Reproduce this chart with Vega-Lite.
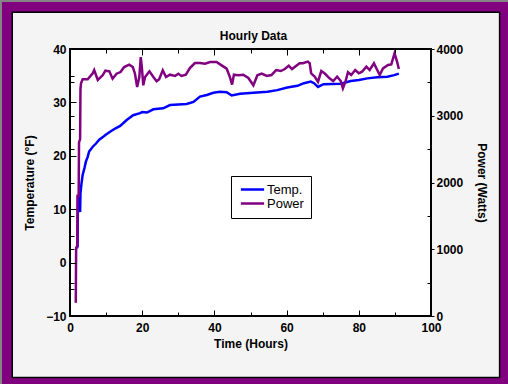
{
  "$schema": "https://vega.github.io/schema/vega-lite/v6.json",
  "width": 361,
  "height": 267,
  "autosize": {"type": "none"},
  "padding": {"left": 70, "top": 49, "right": 77, "bottom": 68},
  "background": "#858585",
  "config": {
    "view": {"stroke": null},
    "font": "Liberation Sans",
    "axis": {
      "labelFont": "Liberation Sans",
      "labelFontSize": 12,
      "labelFontWeight": "bold",
      "labelColor": "black",
      "titleFont": "Liberation Sans",
      "titleFontSize": 12,
      "titleFontWeight": "bold",
      "titleColor": "black",
      "tickColor": "black",
      "tickWidth": 1,
      "domain": false,
      "grid": false,
      "labelFlush": false,
      "labelOverlap": false,
      "labelBound": false
    }
  },
  "title": {
    "text": "Hourly Data",
    "font": "Liberation Sans",
    "fontSize": 12,
    "fontWeight": "bold",
    "color": "black",
    "offset": -41,
    "dx": 3,
    "zindex": 2
  },
  "datasets": {
    "temp": [
      {"t": 1.9, "temp": 2.7}, {"t": 2.1, "temp": 3.0}, {"t": 2.2, "temp": 12.5}, {"t": 2.5, "temp": 10.0},
      {"t": 2.8, "temp": 9.5}, {"t": 2.9, "temp": 13.0}, {"t": 3.2, "temp": 14.9}, {"t": 3.5, "temp": 16.4},
      {"t": 4.0, "temp": 17.7}, {"t": 4.4, "temp": 18.9}, {"t": 4.9, "temp": 19.8}, {"t": 5.3, "temp": 20.8},
      {"t": 6.3, "temp": 21.7}, {"t": 7.2, "temp": 22.3}, {"t": 8.1, "temp": 23.0}, {"t": 9.1, "temp": 23.5},
      {"t": 9.8, "temp": 23.9}, {"t": 11.1, "temp": 24.5}, {"t": 12.5, "temp": 25.1}, {"t": 13.9, "temp": 25.6},
      {"t": 15.7, "temp": 26.7}, {"t": 17.5, "temp": 27.6}, {"t": 19.4, "temp": 28.0}, {"t": 20.0, "temp": 28.2},
      {"t": 21.3, "temp": 28.1}, {"t": 23.1, "temp": 28.7}, {"t": 25.8, "temp": 28.9}, {"t": 27.7, "temp": 29.5},
      {"t": 30.0, "temp": 29.6}, {"t": 32.3, "temp": 29.7}, {"t": 34.2, "temp": 30.1}, {"t": 36.0, "temp": 31.1},
      {"t": 37.9, "temp": 31.4}, {"t": 39.7, "temp": 31.8}, {"t": 41.5, "temp": 32.0}, {"t": 43.4, "temp": 31.9},
      {"t": 44.8, "temp": 31.3}, {"t": 47.1, "temp": 31.6}, {"t": 50.8, "temp": 31.8}, {"t": 54.7, "temp": 32.0},
      {"t": 57.4, "temp": 32.3}, {"t": 60.2, "temp": 32.8}, {"t": 63.0, "temp": 33.1}, {"t": 64.8, "temp": 33.6},
      {"t": 66.7, "temp": 33.9}, {"t": 67.6, "temp": 33.6}, {"t": 68.7, "temp": 32.9}, {"t": 70.2, "temp": 33.4},
      {"t": 75.0, "temp": 33.5}, {"t": 77.8, "temp": 34.0}, {"t": 80.0, "temp": 34.2}, {"t": 82.4, "temp": 34.5},
      {"t": 85.1, "temp": 34.7}, {"t": 87.9, "temp": 34.8}, {"t": 89.8, "temp": 35.1}, {"t": 91.1, "temp": 35.4}
    ],
    "power": [
      {"t": 1.6, "power": 200}, {"t": 1.7, "power": 1020}, {"t": 2.0, "power": 1050}, {"t": 2.1, "power": 1800},
      {"t": 2.4, "power": 1800}, {"t": 2.5, "power": 2600}, {"t": 2.8, "power": 2650}, {"t": 2.9, "power": 3400},
      {"t": 3.05, "power": 3486}, {"t": 3.5, "power": 3546}, {"t": 4.9, "power": 3546}, {"t": 6.3, "power": 3636},
      {"t": 6.7, "power": 3685}, {"t": 7.7, "power": 3536}, {"t": 8.3, "power": 3566}, {"t": 9.1, "power": 3610},
      {"t": 9.8, "power": 3675}, {"t": 10.9, "power": 3666}, {"t": 11.8, "power": 3555}, {"t": 12.9, "power": 3630},
      {"t": 14.0, "power": 3655}, {"t": 15.0, "power": 3730}, {"t": 16.4, "power": 3765}, {"t": 17.4, "power": 3730},
      {"t": 18.0, "power": 3630}, {"t": 18.6, "power": 3431}, {"t": 19.2, "power": 3580}, {"t": 19.6, "power": 3880},
      {"t": 19.9, "power": 3730}, {"t": 20.3, "power": 3456}, {"t": 20.8, "power": 3580}, {"t": 22.0, "power": 3666},
      {"t": 23.1, "power": 3580}, {"t": 24.0, "power": 3516}, {"t": 24.7, "power": 3546}, {"t": 25.7, "power": 3681},
      {"t": 26.6, "power": 3580}, {"t": 27.7, "power": 3615}, {"t": 29.1, "power": 3596}, {"t": 30.0, "power": 3630},
      {"t": 30.9, "power": 3596}, {"t": 32.1, "power": 3615}, {"t": 33.2, "power": 3715}, {"t": 34.6, "power": 3790},
      {"t": 36.0, "power": 3790}, {"t": 37.4, "power": 3780}, {"t": 38.8, "power": 3805}, {"t": 40.6, "power": 3805},
      {"t": 42.0, "power": 3755}, {"t": 43.4, "power": 3705}, {"t": 44.3, "power": 3580}, {"t": 44.9, "power": 3466},
      {"t": 45.4, "power": 3615}, {"t": 46.6, "power": 3606}, {"t": 48.0, "power": 3615}, {"t": 49.4, "power": 3566},
      {"t": 50.8, "power": 3456}, {"t": 51.9, "power": 3606}, {"t": 53.1, "power": 3630}, {"t": 54.5, "power": 3596},
      {"t": 55.8, "power": 3610}, {"t": 57.1, "power": 3685}, {"t": 58.4, "power": 3670}, {"t": 59.5, "power": 3700},
      {"t": 60.6, "power": 3750}, {"t": 61.5, "power": 3700}, {"t": 62.7, "power": 3750}, {"t": 63.6, "power": 3786},
      {"t": 64.5, "power": 3786}, {"t": 65.9, "power": 3810}, {"t": 66.4, "power": 3786}, {"t": 66.8, "power": 3636},
      {"t": 67.8, "power": 3585}, {"t": 68.7, "power": 3510}, {"t": 69.6, "power": 3670}, {"t": 70.5, "power": 3636},
      {"t": 71.9, "power": 3561}, {"t": 72.9, "power": 3520}, {"t": 74.0, "power": 3585}, {"t": 75.0, "power": 3520},
      {"t": 75.6, "power": 3411}, {"t": 76.3, "power": 3510}, {"t": 77.0, "power": 3651}, {"t": 77.9, "power": 3610},
      {"t": 79.0, "power": 3685}, {"t": 80.0, "power": 3636}, {"t": 80.9, "power": 3660}, {"t": 82.1, "power": 3735},
      {"t": 83.0, "power": 3685}, {"t": 84.2, "power": 3786}, {"t": 85.1, "power": 3685}, {"t": 85.8, "power": 3610},
      {"t": 86.7, "power": 3710}, {"t": 88.1, "power": 3760}, {"t": 89.0, "power": 3770}, {"t": 89.9, "power": 3935},
      {"t": 90.6, "power": 3810}, {"t": 91.1, "power": 3700}
    ]
  },
  "layer": [
    {
      "data": {"values": [{}]},
      "mark": {"type": "rect", "fill": "#800080", "strokeWidth": 0},
      "encoding": {
        "x": {"datum": -18.84, "type": "quantitative", "scale": {"domain": [0, 100], "nice": false, "zero": false}, "axis": null},
        "x2": {"datum": 130},
        "y": {"datum": 48.8, "type": "quantitative", "scale": {"domain": [-10, 40], "nice": false, "zero": false}, "axis": null},
        "y2": {"datum": -30}
      }
    },
    {
      "data": {"values": [{}]},
      "mark": {"type": "rect", "fill": "#f4f4f4", "stroke": "black", "strokeWidth": 1.5},
      "encoding": {
        "x": {"datum": -16.0, "type": "quantitative", "axis": null},
        "x2": {"datum": 119.0},
        "y": {"datum": 46.9, "type": "quantitative", "scale": {"domain": [-10, 40], "nice": false, "zero": false}, "axis": null},
        "y2": {"datum": -21.5}
      }
    },
    {
      "data": {"values": [{}]},
      "mark": {"type": "rect", "fill": "white", "stroke": "black", "strokeWidth": 2},
      "encoding": {
        "x": {
          "datum": 0, "type": "quantitative",
          "axis": {
            "orient": "top", "labels": false, "title": null, "zindex": 2,
            "values": [0, 10, 20, 30, 40, 50, 60, 70, 80, 90, 100],
            "tickSize": {"condition": {"test": "datum.value % 20 === 0", "value": -6}, "value": -4}
          }
        },
        "x2": {"datum": 100},
        "y": {"datum": -10, "type": "quantitative", "scale": {"domain": [-10, 40], "nice": false, "zero": false}, "axis": null},
        "y2": {"datum": 40}
      }
    },
    {
      "data": {"name": "temp"},
      "mark": {"type": "line", "strokeWidth": 2.5},
      "encoding": {
        "x": {
          "field": "t", "type": "quantitative",
          "axis": {
            "orient": "bottom", "title": "Time (Hours)", "zindex": 2,
            "values": [0, 10, 20, 30, 40, 50, 60, 70, 80, 90, 100],
            "labelExpr": "datum.value % 20 === 0 ? datum.label : ''",
            "tickSize": {"condition": {"test": "datum.value % 20 === 0", "value": -6}, "value": -4},
            "labelPadding": 12,
            "titlePadding": 3
          }
        },
        "y": {
          "field": "temp", "type": "quantitative",
          "scale": {"domain": [-10, 40], "nice": false, "zero": false},
          "axis": {
            "orient": "left", "title": "Temperature (°F)", "zindex": 2,
            "values": [-10, -5, -3.75, 0, 2.5, 5, 8.75, 10, 15, 20, 21.25, 25, 27.5, 30, 33.75, 35, 40],
            "labelExpr": "datum.value % 10 === 0 ? datum.label : ''",
            "tickSize": {"condition": {"test": "datum.value % 10 === 0", "value": -6}, "value": -4},
            "labelPadding": 10,
            "titlePadding": 9
          }
        },
        "color": {
          "datum": "Temp.", "type": "nominal",
          "scale": {"domain": ["Temp.", "Power"], "range": ["#0000ff", "#800080"]},
          "legend": {
            "orient": "none", "legendX": 161, "legendY": 127,
            "title": null,
            "symbolType": "M-3,0H3",
            "symbolSize": 60,
            "symbolStrokeWidth": 2.5,
            "strokeColor": "black",
            "fillColor": "white",
            "padding": 7,
            "rowPadding": 0,
            "symbolOffset": 8,
            "labelOffset": 8,
            "labelFont": "Liberation Sans",
            "labelFontSize": 13,
            "labelColor": "black",
            "zindex": 2
          }
        }
      }
    },
    {
      "data": {"name": "power"},
      "mark": {"type": "line", "strokeWidth": 2.5},
      "encoding": {
        "x": {"field": "t", "type": "quantitative", "axis": null},
        "y": {
          "field": "power", "type": "quantitative",
          "scale": {"domain": [0, 4000], "nice": false, "zero": false},
          "axis": {
            "orient": "right", "title": "Power (Watts)", "zindex": 2,
            "values": [0, 500, 1000, 1500, 2000, 2500, 3000, 3500, 4000],
            "labelExpr": "datum.value % 1000 === 0 ? datum.label : ''",
            "format": "d",
            "tickSize": {"condition": {"test": "datum.value % 1000 === 0", "value": 3}, "value": -4},
            "labelPadding": 2,
            "titlePadding": 12
          }
        },
        "color": {"datum": "Power", "type": "nominal"}
      }
    }
  ],
  "resolve": {"scale": {"y": "independent"}}
}
